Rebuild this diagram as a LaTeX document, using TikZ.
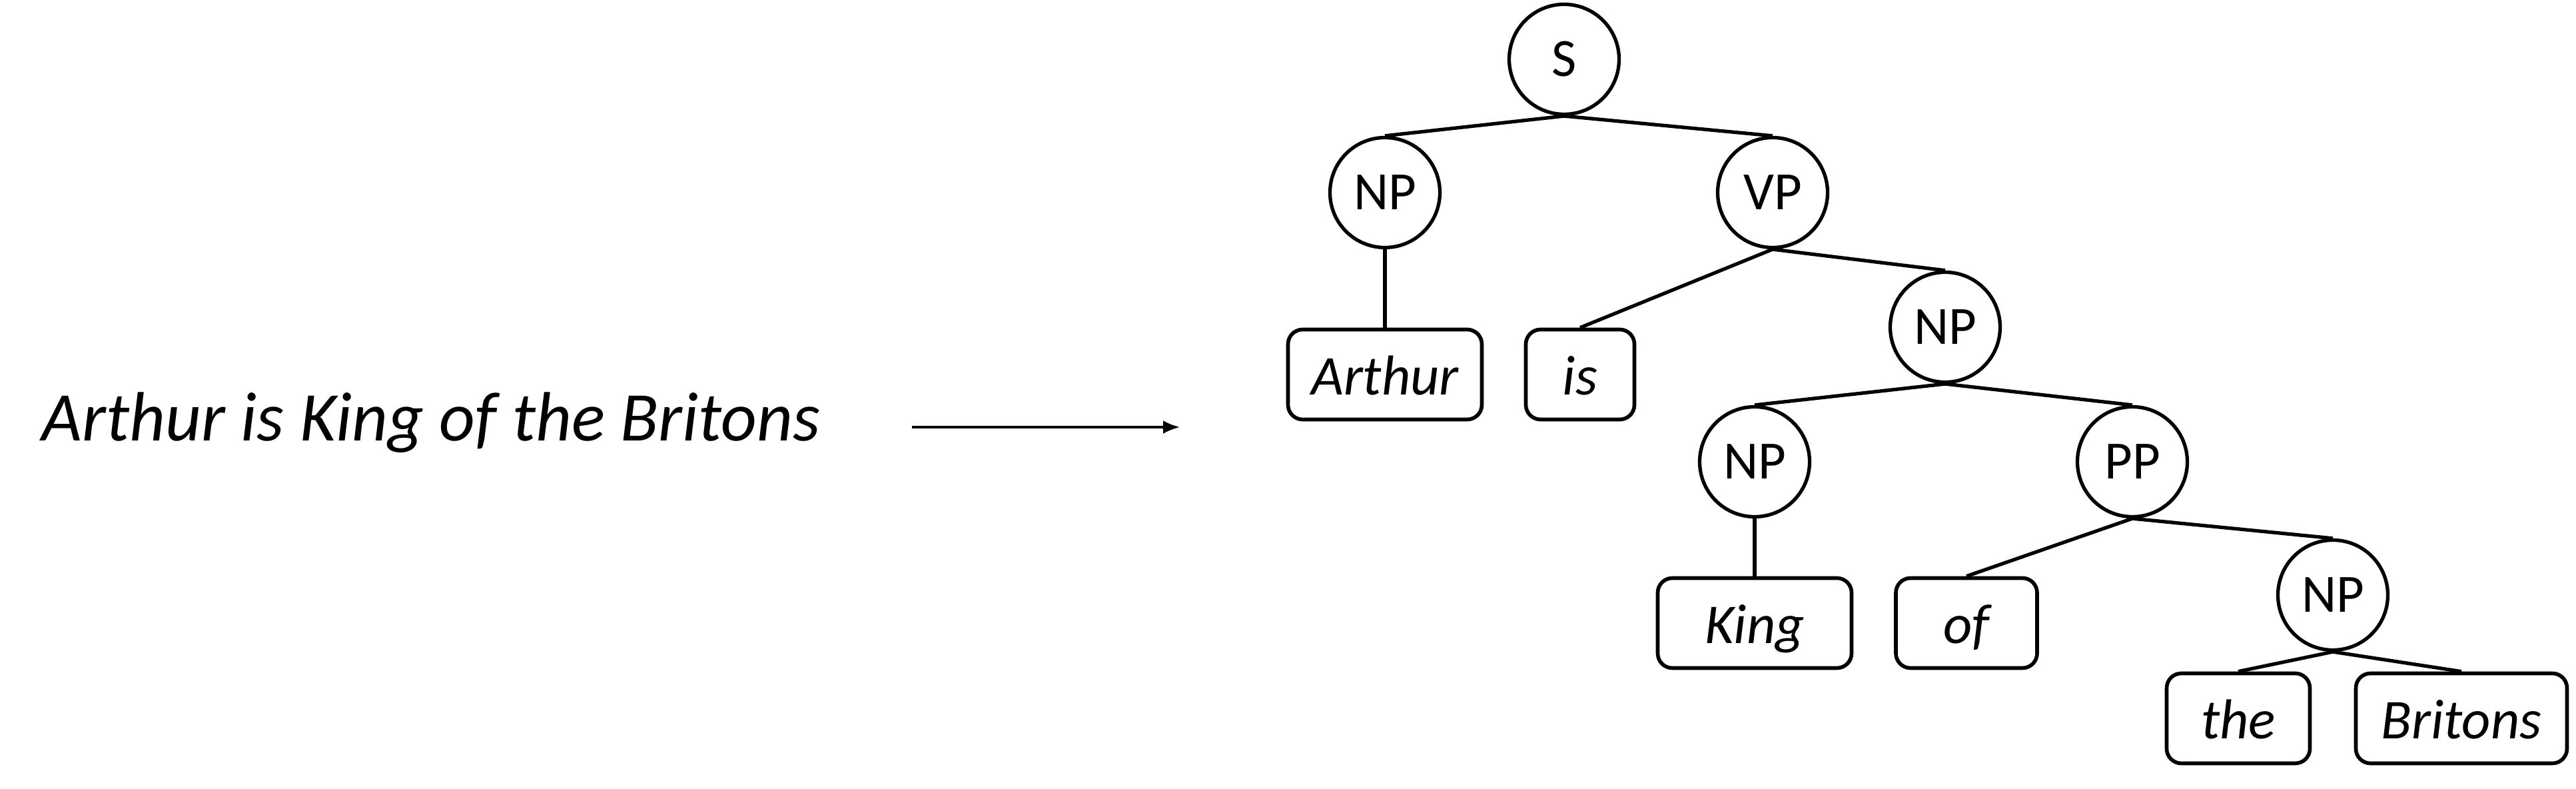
\documentclass[tikz,border=0pt]{standalone}
\usepackage{fontspec}
\setmainfont{Carlito}
\usepackage{tikz}
\usetikzlibrary{arrows.meta}

\begin{document}
\begin{tikzpicture}[
  cat/.style={draw,circle,line width=1.5pt,minimum size=1.65cm,inner sep=0pt,font=\fontsize{23}{26}\selectfont},
  word/.style={draw,rounded corners=0.22cm,line width=1.6pt,minimum height=1.35cm,inner sep=0pt,text height=0.62cm,text depth=0cm,font=\fontsize{24}{28}\selectfont\itshape},
  branch/.style={line width=1.5pt}
]
  \useasboundingbox (0,0) rectangle (38.67,11.84);
  % phrase nodes
  \foreach \nm/\x/\y/\lbl in {s/23.48/10.95/S,np1/20.79/8.95/NP,vp/26.61/8.95/VP,np2/29.20/6.93/NP,
                              np3/26.34/4.91/NP,pp/32.01/4.91/PP,np4/35.02/2.91/NP} {
    \node[cat] (\nm) at (\x,\y) {\lbl};
  }
  % words
  \foreach \nm/\x/\y/\bw/\lbl in {arthur/20.79/6.22/2.91/Arthur,is/23.72/6.22/1.63/is,king/26.34/2.49/2.91/King,
                                  of/29.52/2.49/2.12/of,the/33.60/1.06/2.15/the,britons/36.95/1.06/3.17/Britons} {
    \node[word,minimum width=\bw cm] (\nm) at (\x,\y) {\lbl};
  }
  % branches
  \foreach \a/\b in {s/np1,s/vp,np1/arthur,vp/is,vp/np2,np2/np3,np2/pp,np3/king,pp/of,pp/np4,np4/the,np4/britons} {
    \draw[branch] (\a.south) -- (\b.north);
  }
  \node[anchor=base west,inner sep=0pt,font=\fontsize{29.8}{34}\selectfont\itshape] (sentence) at (0.62,5.22) {Arthur is King of the Britons};
  \coordinate (arrowstart) at (13.69,5.43);
  \coordinate (arrowend) at (17.71,5.43);
  \draw[-{Latex[length=0.25cm,width=0.2cm]},line width=0.9pt] (arrowstart) -- (arrowend);
\end{tikzpicture}
\end{document}
